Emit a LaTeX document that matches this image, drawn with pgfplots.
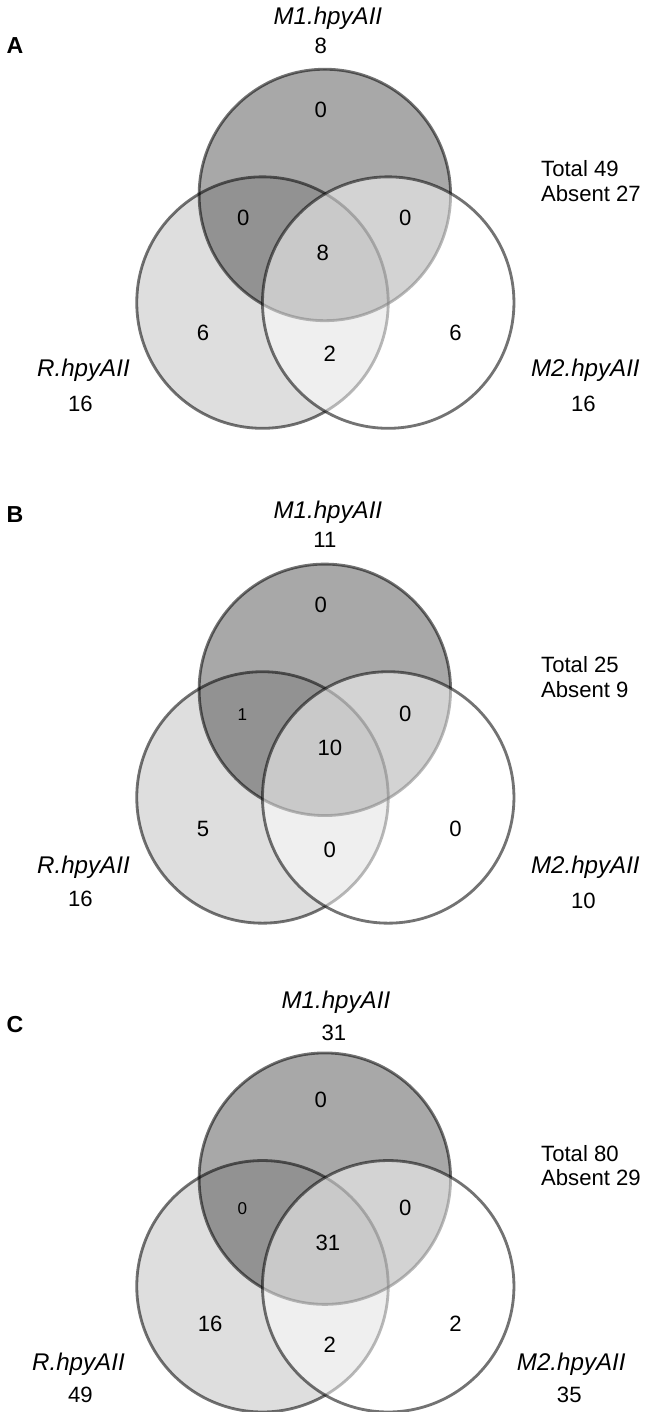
\documentclass[border=0pt]{standalone}
\usepackage{pgfplots}
\pgfplotsset{compat=1.18}
\usepackage{fontspec}
\setmainfont{Liberation Sans}

% circle styles (radius 125 px = 62.5pt at 0.5pt per px)
\pgfplotsset{
  venn/.style={only marks, mark=*, mark size=62.5pt},
  circR/.style={venn, mark options={draw=black, draw opacity=0.55, fill=black, fill opacity=0.13, line width=1.4pt}},
  circM1/.style={venn, mark options={draw=black, draw opacity=0.55, fill=black, fill opacity=0.34, line width=1.4pt}},
  circM2/.style={venn, mark options={draw=black, draw opacity=0.55, fill=white, fill opacity=0.5, line width=1.4pt}},
}
\newcommand{\lab}[1]{\fontsize{12}{14}\selectfont\itshape #1}
\newcommand{\num}[1]{\fontsize{11}{13}\selectfont #1}
\newcommand{\sm}[1]{\fontsize{8.5}{10}\selectfont #1}
\newcommand{\pan}[1]{\fontsize{11.5}{13}\selectfont\bfseries #1}

\begin{document}
\begin{tikzpicture}
\begin{axis}[
    width=324pt, height=706pt, scale only axis,
    xmin=0, xmax=648, ymin=0, ymax=1412,
    y dir=reverse,
    hide axis, clip=false,
    set layers,
]
% ---- panel A ----
\addplot[circR]  coordinates {(266,307)};
\addplot[circM1] coordinates {(328,200)};
\addplot[circM2] coordinates {(391,307)};
% ---- panel B ----
\addplot[circR]  coordinates {(266,799)};
\addplot[circM1] coordinates {(328,692)};
\addplot[circM2] coordinates {(391,799)};
% ---- panel C ----
\addplot[circR]  coordinates {(266,1285)};
\addplot[circM1] coordinates {(328,1178)};
\addplot[circM2] coordinates {(391,1285)};

\begin{pgfonlayer}{axis foreground}
% panel A text
\node at (axis cs:20,51) {\pan{A}};
\node at (axis cs:331,24) {\lab{M1.hpyAII}};
\node at (axis cs:324,52) {\num{8}};
\node[anchor=west] at (axis cs:536,174) {\num{Total 49}};
\node[anchor=west] at (axis cs:536,199) {\num{Absent 27}};
\node at (axis cs:88,374) {\lab{R.hpyAII}};
\node at (axis cs:85,408) {\num{16}};
\node at (axis cs:587,374) {\lab{M2.hpyAII}};
\node at (axis cs:585,408) {\num{16}};
\node at (axis cs:324,115) {\num{0}};
\node at (axis cs:247,223) {\num{0}};
\node at (axis cs:408,223) {\num{0}};
\node at (axis cs:326,258) {\num{8}};
\node at (axis cs:207,337) {\num{6}};
\node at (axis cs:458,337) {\num{6}};
\node at (axis cs:333,358) {\num{2}};

% panel B text
\node at (axis cs:20,518) {\pan{B}};
\node at (axis cs:331,515) {\lab{M1.hpyAII}};
\node at (axis cs:328,543) {\num{11}};
\node[anchor=west] at (axis cs:536,667) {\num{Total 25}};
\node[anchor=west] at (axis cs:536,692) {\num{Absent 9}};
\node at (axis cs:88,868) {\lab{R.hpyAII}};
\node at (axis cs:85,900) {\num{16}};
\node at (axis cs:587,868) {\lab{M2.hpyAII}};
\node at (axis cs:585,902) {\num{10}};
\node at (axis cs:324,608) {\num{0}};
\node at (axis cs:246,717) {\sm{1}};
\node at (axis cs:408,716) {\num{0}};
\node at (axis cs:333,750) {\num{10}};
\node at (axis cs:207,830) {\num{5}};
\node at (axis cs:458,830) {\num{0}};
\node at (axis cs:333,851) {\num{0}};

% panel C text
\node at (axis cs:20,1025) {\pan{C}};
\node at (axis cs:339,1003) {\lab{M1.hpyAII}};
\node at (axis cs:337,1033) {\num{31}};
\node[anchor=west] at (axis cs:536,1153) {\num{Total 80}};
\node[anchor=west] at (axis cs:536,1177) {\num{Absent 29}};
\node at (axis cs:83,1363) {\lab{R.hpyAII}};
\node at (axis cs:85,1393) {\num{49}};
\node at (axis cs:573,1363) {\lab{M2.hpyAII}};
\node at (axis cs:571,1393) {\num{35}};
\node at (axis cs:324,1100) {\num{0}};
\node at (axis cs:246,1208) {\sm{0}};
\node at (axis cs:408,1207) {\num{0}};
\node at (axis cs:331,1242) {\num{31}};
\node at (axis cs:214,1322) {\num{16}};
\node at (axis cs:458,1322) {\num{2}};
\node at (axis cs:333,1343) {\num{2}};
\end{pgfonlayer}
\end{axis}
\end{tikzpicture}
\end{document}
